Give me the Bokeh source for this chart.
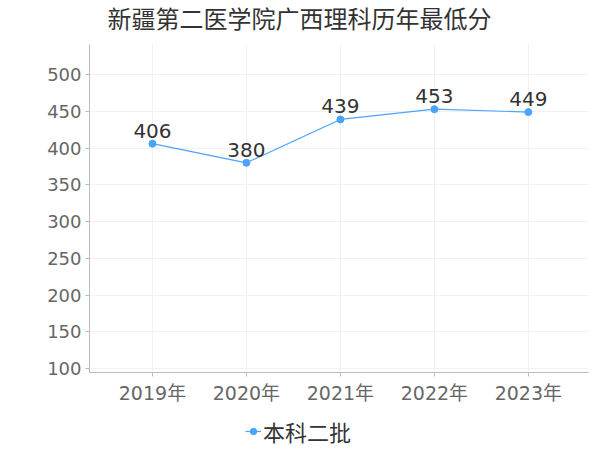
from bokeh.plotting import figure
from bokeh.models import (Range1d, FixedTicker, Legend, LegendItem, ColumnDataSource, Label)
from bokeh.layouts import column
from bokeh.embed import file_html
from bokeh.resources import INLINE
from bokeh.core.properties import value

years = ["2019年", "2020年", "2021年", "2022年", "2023年"]
scores = [406, 380, 439, 453, 449]
y_ticks = [100, 150, 200, 250, 300, 350, 400, 450, 500]
title_text = "新疆第二医学院广西理科历年最低分"
series_name = "本科二批"

FONT = "DejaVu Sans, Noto Sans CJK SC"
CJK = "Noto Sans CJK SC"
BLUE = "#4aa3ff"

xs = list(range(len(years)))
src = ColumnDataSource(dict(x=xs, y=scores, lbl=[str(s) for s in scores]))
x_rng = Range1d(-0.67, len(years) - 1 + 0.64)

# title strip
tf = figure(width=600, height=44, output_backend="svg", toolbar_location=None,
            x_range=Range1d(0, 1), y_range=Range1d(0, 1),
            min_border=0, x_axis_location=None, y_axis_location=None)
tf.outline_line_color = None
tf.grid.visible = False
tf.add_layout(Label(x=18, y=27, x_units="screen", y_units="screen", text=title_text,
                    text_font=CJK, text_font_size="24px", text_color="#333333",
                    text_align="left", text_baseline="middle"))

# main chart
p = figure(width=600, height=368, output_backend="svg", toolbar_location=None,
           x_range=x_rng, y_range=Range1d(94.6, 541),
           min_border_left=89, min_border_right=12, min_border_top=0, min_border_bottom=40)
p.outline_line_color = None

p.xaxis.ticker = FixedTicker(ticks=xs)
p.xaxis.major_label_overrides = {i: y for i, y in enumerate(years)}
p.yaxis.ticker = FixedTicker(ticks=y_ticks)

for ax in (p.xaxis, p.yaxis):
    ax.axis_line_color = "#bbbbbb"
    ax.major_tick_line_color = "#bbbbbb"
    ax.major_tick_out = 4
    ax.major_tick_in = 0
    ax.minor_tick_line_color = None
    ax.major_label_text_font = FONT
    ax.major_label_text_color = "#666666"
p.yaxis.major_label_text_font_size = "18px"
p.xaxis.major_label_text_font_size = "19px"
p.xaxis.major_label_standoff = 5
p.yaxis.major_label_standoff = 4

p.xgrid.ticker = FixedTicker(ticks=xs)
p.xgrid.grid_line_color = "#f2f2f2"
p.ygrid.grid_line_color = "#f2f2f2"

p.line("x", "y", source=src, line_color=BLUE, line_width=1.2)
p.scatter("x", "y", source=src, size=7, fill_color=BLUE, line_color=BLUE)
p.text("x", "y", text="lbl", source=src, text_font=value(FONT), text_font_size="20px",
       text_color="#333333", text_align="center", text_baseline="bottom", y_offset=-6)

# legend strip below the chart (same series, drawn outside its visible range)
lf = figure(width=600, height=38, output_backend="svg", toolbar_location=None,
            x_range=x_rng, y_range=Range1d(0, 1),
            min_border=0, x_axis_location=None, y_axis_location=None)
lf.outline_line_color = None
lf.grid.visible = False
lr_line = lf.line("x", "y", source=src, line_color=BLUE, line_width=1.2)
lr_pts = lf.scatter("x", "y", source=src, size=7, fill_color=BLUE, line_color=BLUE)
legend = Legend(items=[LegendItem(label=series_name, renderers=[lr_line, lr_pts])],
                location=(156, 3), orientation="horizontal",
                label_text_font=CJK, label_text_font_size="22px", label_text_color="#333333",
                background_fill_alpha=0, border_line_color=None,
                glyph_width=16, label_standoff=2, padding=0, margin=0)
lf.add_layout(legend, "center")

layout = column(tf, p, lf, spacing=0)
open("out.html", "w").write(file_html(layout, INLINE))
